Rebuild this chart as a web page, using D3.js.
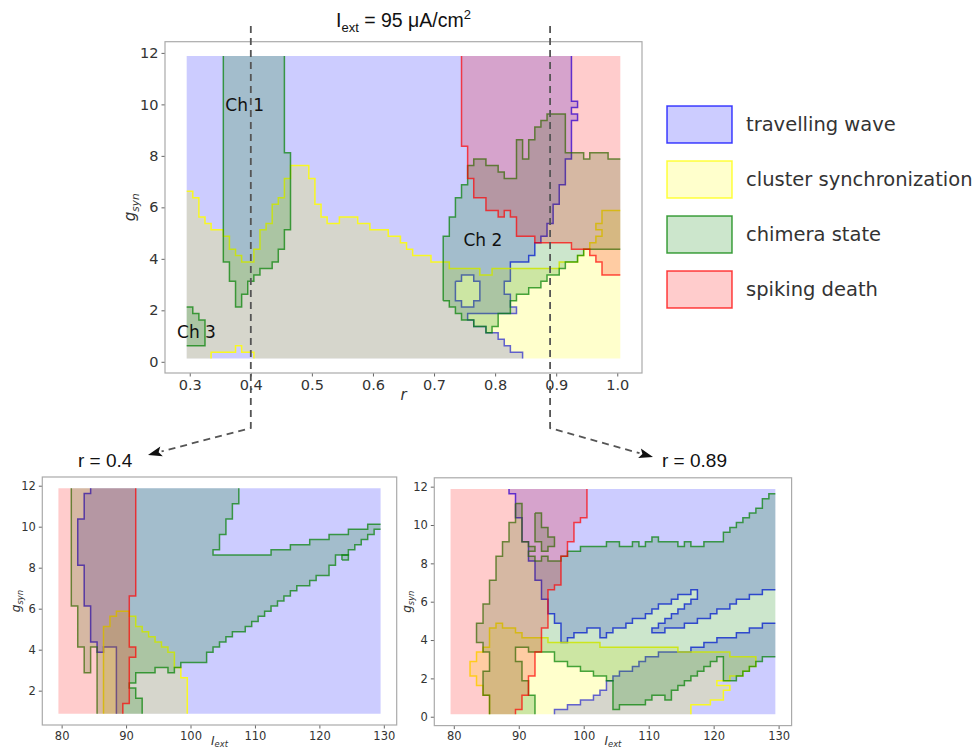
<!DOCTYPE html>
<html><head><meta charset="utf-8">
<script src="https://cdn.jsdelivr.net/npm/d3@7"></script>
<style>body{margin:0;background:#fff}svg{display:block}</style>
</head><body>
<svg id="c" width="976" height="751"></svg>
<script>
// ---------------- DATA ----------------
const mainXTicks=[0.3,0.4,0.5,0.6,0.7,0.8,0.9,1.0];
const mainYTicks=[0,2,4,6,8,10,12];
const subXTicks=[80,90,100,110,120,130];
const leftYTicks=[2,4,6,8,10,12];
const rightYTicks=[0,2,4,6,8,10,12];
const cutR=[0.4,0.89];
const cutLabels=["r = 0.4","r = 0.89"];
const legendLabels=["travelling wave","cluster synchronization","chimera state","spiking death"];
const stateColors=["#0000ff","#ffff00","#008000","#ff0000"];
const chLabels=[["Ch 1",0.39,9.96],["Ch 2",0.78,4.74],["Ch 3",0.311,1.14]];
// extent of the computed parameter grids
const mainExtent={x0:0.295,x1:1.005,y0:0.125,y1:11.875};
const leftExtent={x0:79.5,x1:129.5,y0:0.875,y1:11.875};
const rightExtent={x0:79.5,x1:129.5,y0:0.125,y1:11.875};

// main panel (r, g_syn) region outlines
const mainTravel=[[0.295,11.875],[0.925,11.875],[0.925,10.125],[0.935,10.125],[0.935,9.875],[0.925,9.875],[0.925,9.625],[0.935,9.625],[0.935,9.375],[0.925,9.375],[0.925,7.875],[0.915,7.875],[0.915,6.875],[0.905,6.875],[0.905,6.125],[0.895,6.125],[0.895,5.375],[0.885,5.375],[0.885,4.875],[0.875,4.875],[0.875,4.625],[0.865,4.625],[0.865,4.125],[0.855,4.125],[0.855,3.875],[0.825,3.875],[0.825,3.125],[0.815,3.125],[0.815,2.625],[0.825,2.625],[0.825,2.125],[0.835,2.125],[0.835,1.875],[0.755,1.875],[0.755,1.625],[0.765,1.625],[0.765,1.375],[0.785,1.375],[0.785,1.125],[0.805,1.125],[0.805,0.875],[0.815,0.875],[0.815,0.625],[0.825,0.625],[0.825,0.375],[0.845,0.375],[0.845,0.125],[0.295,0.125]];
const mainTravelHole=[[0.735,3.125],[0.745,3.125],[0.745,3.375],[0.765,3.375],[0.765,3.125],[0.775,3.125],[0.775,2.375],[0.765,2.375],[0.765,2.125],[0.745,2.125],[0.745,2.375],[0.735,2.375]];
const mainCluster=[[0.295,6.625],[0.305,6.625],[0.305,6.375],[0.315,6.375],[0.315,5.625],[0.325,5.625],[0.325,5.375],[0.335,5.375],[0.335,5.125],[0.355,5.125],[0.355,4.875],[0.365,4.875],[0.365,4.375],[0.375,4.375],[0.375,4.125],[0.385,4.125],[0.385,3.875],[0.405,3.875],[0.405,4.375],[0.415,4.375],[0.415,5.125],[0.425,5.125],[0.425,5.375],[0.435,5.375],[0.435,6.125],[0.445,6.125],[0.445,6.375],[0.455,6.375],[0.455,7.125],[0.465,7.125],[0.465,7.625],[0.495,7.625],[0.495,7.125],[0.505,7.125],[0.505,6.125],[0.515,6.125],[0.515,5.625],[0.525,5.625],[0.525,5.375],[0.545,5.375],[0.545,5.625],[0.575,5.625],[0.575,5.375],[0.595,5.375],[0.595,5.125],[0.625,5.125],[0.625,4.875],[0.645,4.875],[0.645,4.625],[0.655,4.625],[0.655,4.375],[0.665,4.375],[0.665,4.125],[0.695,4.125],[0.695,3.875],[0.725,3.875],[0.725,3.625],[0.775,3.625],[0.775,3.375],[0.795,3.375],[0.795,3.625],[0.905,3.625],[0.905,3.875],[0.935,3.875],[0.935,4.125],[0.945,4.125],[0.945,4.375],[0.955,4.375],[0.955,4.625],[0.965,4.625],[0.965,4.875],[0.975,4.875],[0.975,5.125],[0.965,5.125],[0.965,5.375],[0.975,5.375],[0.975,5.875],[1.005,5.875],[1.005,0.125],[0.405,0.125],[0.405,0.375],[0.385,0.375],[0.385,0.625],[0.375,0.625],[0.375,0.375],[0.335,0.375],[0.335,0.125],[0.295,0.125]];
const mainChimera1=[[0.355,11.875],[0.355,3.875],[0.365,3.875],[0.365,3.125],[0.375,3.125],[0.375,2.125],[0.385,2.125],[0.385,2.625],[0.395,2.625],[0.395,3.125],[0.405,3.125],[0.405,3.375],[0.415,3.375],[0.415,3.625],[0.435,3.625],[0.435,3.875],[0.445,3.875],[0.445,4.375],[0.455,4.375],[0.455,5.125],[0.465,5.125],[0.465,8.125],[0.455,8.125],[0.455,11.875]];
const mainChimera2=[[0.715,2.375],[0.715,4.875],[0.725,4.875],[0.725,5.625],[0.735,5.625],[0.735,6.375],[0.745,6.375],[0.745,6.875],[0.755,6.875],[0.755,7.625],[0.765,7.625],[0.765,7.875],[0.785,7.875],[0.785,7.625],[0.805,7.625],[0.805,7.375],[0.815,7.375],[0.815,7.125],[0.835,7.125],[0.835,8.625],[0.845,8.625],[0.845,7.875],[0.855,7.875],[0.855,8.625],[0.865,8.625],[0.865,9.125],[0.875,9.125],[0.875,9.375],[0.885,9.375],[0.885,9.625],[0.915,9.625],[0.915,8.125],[0.945,8.125],[0.945,7.875],[0.955,7.875],[0.955,8.125],[0.985,8.125],[0.985,7.875],[1.005,7.875],[1.005,4.375],[0.945,4.375],[0.945,4.125],[0.935,4.125],[0.935,3.875],[0.915,3.875],[0.915,3.625],[0.905,3.625],[0.905,3.375],[0.885,3.375],[0.885,3.125],[0.875,3.125],[0.875,2.875],[0.855,2.875],[0.855,2.625],[0.835,2.625],[0.835,2.375],[0.825,2.375],[0.825,1.875],[0.805,1.875],[0.805,1.375],[0.795,1.375],[0.795,1.125],[0.785,1.125],[0.785,1.375],[0.765,1.375],[0.765,1.625],[0.745,1.625],[0.745,1.875],[0.735,1.875],[0.735,2.125],[0.725,2.125],[0.725,2.375]];
const mainChimera3=[[0.295,2.125],[0.305,2.125],[0.305,1.875],[0.315,1.875],[0.315,1.625],[0.325,1.625],[0.325,0.625],[0.295,0.625]];
const mainDeath=[[0.745,11.875],[1.005,11.875],[1.005,3.375],[0.975,3.375],[0.975,3.875],[0.965,3.875],[0.965,4.125],[0.955,4.125],[0.955,4.375],[0.925,4.375],[0.925,4.625],[0.865,4.625],[0.865,4.875],[0.835,4.875],[0.835,5.625],[0.825,5.625],[0.825,5.875],[0.815,5.875],[0.815,5.625],[0.805,5.625],[0.805,5.875],[0.785,5.875],[0.785,6.375],[0.765,6.375],[0.765,7.125],[0.755,7.125],[0.755,8.375],[0.745,8.375]];

// lower-left panel, r = 0.4 (I_ext, g_syn)
const leftTravel=[[84.5,11.875],[129.5,11.875],[129.5,0.875],[88.5,0.875],[88.5,4.125],[86.5,4.125],[86.5,3.875],[85.5,3.875],[85.5,4.375],[84.5,4.375],[84.5,6.125],[83.5,6.125],[83.5,8.125],[82.5,8.125],[82.5,10.375],[83.5,10.375],[83.5,11.625],[84.5,11.625]];
const leftCluster=[[86.5,0.875],[86.5,5.125],[87.5,5.125],[87.5,5.625],[88.5,5.625],[88.5,5.875],[90.5,5.875],[90.5,5.625],[91.5,5.625],[91.5,5.125],[92.5,5.125],[92.5,4.875],[93.5,4.875],[93.5,4.625],[94.5,4.625],[94.5,4.375],[95.5,4.375],[95.5,4.125],[96.5,4.125],[96.5,3.875],[97.5,3.875],[97.5,3.125],[98.5,3.125],[98.5,2.625],[99.5,2.625],[99.5,0.875]];
const leftChimera=[[81.5,11.875],[107.5,11.875],[107.5,11.125],[106.5,11.125],[106.5,10.375],[105.5,10.375],[105.5,9.625],[104.5,9.625],[104.5,8.875],[103.5,8.875],[103.5,8.625],[112.5,8.625],[112.5,8.875],[115.5,8.875],[115.5,9.125],[118.5,9.125],[118.5,9.375],[121.5,9.375],[121.5,9.625],[124.5,9.625],[124.5,9.875],[127.5,9.875],[127.5,10.125],[129.5,10.125],[129.5,9.875],[128.5,9.875],[128.5,9.625],[127.5,9.625],[127.5,9.375],[126.5,9.375],[126.5,9.125],[125.5,9.125],[125.5,8.875],[124.5,8.875],[124.5,8.625],[122.5,8.625],[122.5,8.125],[121.5,8.125],[121.5,7.625],[119.5,7.625],[119.5,7.375],[118.5,7.375],[118.5,7.125],[116.5,7.125],[116.5,6.875],[115.5,6.875],[115.5,6.625],[114.5,6.625],[114.5,6.375],[113.5,6.375],[113.5,6.125],[112.5,6.125],[112.5,5.875],[111.5,5.875],[111.5,5.625],[110.5,5.625],[110.5,5.375],[109.5,5.375],[109.5,5.125],[108.5,5.125],[108.5,4.875],[106.5,4.875],[106.5,4.625],[105.5,4.625],[105.5,4.375],[104.5,4.375],[104.5,4.125],[103.5,4.125],[103.5,3.875],[102.5,3.875],[102.5,3.375],[98.5,3.375],[98.5,3.125],[97.5,3.125],[97.5,2.875],[96.5,2.875],[96.5,3.125],[94.5,3.125],[94.5,2.875],[91.5,2.875],[91.5,2.375],[90.5,2.375],[90.5,2.125],[91.5,2.125],[91.5,1.625],[92.5,1.625],[92.5,0.875],[85.5,0.875],[85.5,4.125],[84.5,4.125],[84.5,2.875],[83.5,2.875],[83.5,4.125],[82.5,4.125],[82.5,6.125],[81.5,6.125]];
const leftChimeraSquare=[[123.5,8.375],[124.5,8.375],[124.5,8.625],[123.5,8.625]];
const leftDeath=[[79.5,11.875],[91.5,11.875],[91.5,6.625],[90.5,6.625],[90.5,4.125],[91.5,4.125],[91.5,3.625],[90.5,3.625],[90.5,1.375],[89.5,1.375],[89.5,0.875],[79.5,0.875]];

// lower-right panel, r = 0.89 (I_ext, g_syn)
const rightTravelTop=[[88.5,11.875],[88.5,11.625],[89.5,11.625],[89.5,10.375],[90.5,10.375],[90.5,9.125],[91.5,9.125],[91.5,8.125],[92.5,8.125],[92.5,7.125],[93.5,7.125],[93.5,6.125],[94.5,6.125],[94.5,5.375],[95.5,5.375],[95.5,4.875],[96.5,4.875],[96.5,3.875],[97.5,3.875],[97.5,4.125],[98.5,4.125],[98.5,4.375],[100.5,4.375],[100.5,4.625],[102.5,4.625],[102.5,4.125],[103.5,4.125],[103.5,4.375],[104.5,4.375],[104.5,4.625],[106.5,4.625],[106.5,4.875],[107.5,4.875],[107.5,5.125],[109.5,5.125],[109.5,5.375],[110.5,5.375],[110.5,5.625],[111.5,5.625],[111.5,5.875],[113.5,5.875],[113.5,6.125],[114.5,6.125],[114.5,6.375],[116.5,6.375],[116.5,6.625],[117.5,6.625],[117.5,6.125],[116.5,6.125],[116.5,5.875],[115.5,5.875],[115.5,5.625],[114.5,5.625],[114.5,5.375],[113.5,5.375],[113.5,5.125],[112.5,5.125],[112.5,4.875],[111.5,4.875],[111.5,4.625],[110.5,4.625],[110.5,4.375],[112.5,4.375],[112.5,4.625],[115.5,4.625],[115.5,4.875],[117.5,4.875],[117.5,5.125],[119.5,5.125],[119.5,5.375],[120.5,5.375],[120.5,5.625],[122.5,5.625],[122.5,5.875],[123.5,5.875],[123.5,6.125],[125.5,6.125],[125.5,6.375],[127.5,6.375],[127.5,6.625],[129.5,6.625],[129.5,11.875]];
const rightTravelBottom=[[95.5,0.125],[95.5,0.375],[97.5,0.375],[97.5,0.625],[99.5,0.625],[99.5,0.875],[101.5,0.875],[101.5,1.125],[102.5,1.125],[102.5,1.375],[103.5,1.375],[103.5,1.875],[104.5,1.875],[104.5,2.125],[105.5,2.125],[105.5,2.375],[107.5,2.375],[107.5,2.625],[108.5,2.625],[108.5,2.875],[109.5,2.875],[109.5,3.125],[111.5,3.125],[111.5,3.375],[116.5,3.375],[116.5,3.625],[118.5,3.625],[118.5,3.875],[120.5,3.875],[120.5,4.125],[123.5,4.125],[123.5,4.375],[125.5,4.375],[125.5,4.625],[127.5,4.625],[127.5,4.875],[129.5,4.875],[129.5,0.125]];
const rightCluster=[[85.5,0.125],[85.5,1.125],[84.5,1.125],[84.5,1.625],[83.5,1.625],[83.5,2.125],[82.5,2.125],[82.5,2.875],[83.5,2.875],[83.5,3.375],[84.5,3.375],[84.5,3.625],[85.5,3.625],[85.5,4.625],[86.5,4.625],[86.5,4.875],[87.5,4.875],[87.5,4.625],[89.5,4.625],[89.5,4.375],[90.5,4.375],[90.5,4.125],[94.5,4.125],[94.5,3.875],[102.5,3.875],[102.5,3.625],[114.5,3.625],[114.5,3.375],[122.5,3.375],[122.5,3.125],[126.5,3.125],[126.5,2.625],[125.5,2.625],[125.5,2.375],[124.5,2.375],[124.5,2.125],[122.5,2.125],[122.5,1.875],[120.5,1.875],[120.5,1.625],[122.5,1.625],[122.5,1.375],[121.5,1.375],[121.5,0.875],[119.5,0.875],[119.5,0.625],[116.5,0.625],[116.5,0.125]];
const rightChimera=[[89.5,11.125],[90.5,11.125],[90.5,9.125],[91.5,9.125],[91.5,8.875],[92.5,8.875],[92.5,8.625],[91.5,8.625],[91.5,8.375],[92.5,8.375],[92.5,8.125],[93.5,8.125],[93.5,8.375],[94.5,8.375],[94.5,8.125],[96.5,8.125],[96.5,8.375],[97.5,8.375],[97.5,8.625],[99.5,8.625],[99.5,8.875],[103.5,8.875],[103.5,9.125],[105.5,9.125],[105.5,8.875],[107.5,8.875],[107.5,9.125],[108.5,9.125],[108.5,8.875],[109.5,8.875],[109.5,9.125],[110.5,9.125],[110.5,9.375],[111.5,9.375],[111.5,9.125],[114.5,9.125],[114.5,8.875],[115.5,8.875],[115.5,9.125],[116.5,9.125],[116.5,8.875],[118.5,8.875],[118.5,9.125],[121.5,9.125],[121.5,9.625],[122.5,9.625],[122.5,9.875],[123.5,9.875],[123.5,10.125],[124.5,10.125],[124.5,10.375],[125.5,10.375],[125.5,10.625],[126.5,10.625],[126.5,10.875],[127.5,10.875],[127.5,11.375],[128.5,11.375],[128.5,11.625],[129.5,11.625],[129.5,3.125],[127.5,3.125],[127.5,2.875],[126.5,2.875],[126.5,2.625],[125.5,2.625],[125.5,2.375],[124.5,2.375],[124.5,2.125],[123.5,2.125],[123.5,1.875],[121.5,1.875],[121.5,3.125],[120.5,3.125],[120.5,2.875],[119.5,2.875],[119.5,2.625],[118.5,2.625],[118.5,2.375],[117.5,2.375],[117.5,2.125],[116.5,2.125],[116.5,1.875],[115.5,1.875],[115.5,1.625],[114.5,1.625],[114.5,1.375],[113.5,1.375],[113.5,0.875],[112.5,0.875],[112.5,1.125],[110.5,1.125],[110.5,0.875],[109.5,0.875],[109.5,0.625],[105.5,0.625],[105.5,0.375],[104.5,0.375],[104.5,1.875],[103.5,1.875],[103.5,2.125],[101.5,2.125],[101.5,2.375],[99.5,2.375],[99.5,2.625],[97.5,2.625],[97.5,2.875],[95.5,2.875],[95.5,3.375],[91.5,3.375],[91.5,3.625],[89.5,3.625],[89.5,2.875],[90.5,2.875],[90.5,1.875],[91.5,1.875],[91.5,1.125],[92.5,1.125],[92.5,0.125],[85.5,0.125],[85.5,1.125],[84.5,1.125],[84.5,2.375],[85.5,2.375],[85.5,3.375],[84.5,3.375],[84.5,3.875],[83.5,3.875],[83.5,4.875],[84.5,4.875],[84.5,5.875],[85.5,5.875],[85.5,7.125],[86.5,7.125],[86.5,8.375],[87.5,8.375],[87.5,9.125],[88.5,9.125],[88.5,10.125],[89.5,10.125]];
const rightChimeraBlob=[[92.5,10.625],[93.5,10.625],[93.5,9.875],[94.5,9.875],[94.5,9.375],[95.5,9.375],[95.5,8.875],[94.5,8.875],[94.5,8.625],[93.5,8.625],[93.5,9.125],[92.5,9.125]];
const rightDeath=[[79.5,11.875],[100.5,11.875],[100.5,10.375],[99.5,10.375],[99.5,10.125],[98.5,10.125],[98.5,9.125],[97.5,9.125],[97.5,8.375],[96.5,8.375],[96.5,6.875],[95.5,6.875],[95.5,6.625],[94.5,6.625],[94.5,4.625],[93.5,4.625],[93.5,3.375],[92.5,3.375],[92.5,2.125],[91.5,2.125],[91.5,1.125],[90.5,1.125],[90.5,0.375],[89.5,0.375],[89.5,0.125],[79.5,0.125]];

// ---------------- DRAWING ----------------
const svg=d3.select("#c");
svg.append("rect").attr("width",976).attr("height",751).attr("fill","#fff");
const FONT="DejaVu Sans, sans-serif";
const strokeOp=[0.75,0.85,0.7,0.7];

// outline path that skips segments lying on the outer edge of the computed grid
function outline(ring,x,y,ext){
  let d="",pen=false;
  for(let i=0;i<ring.length;i++){
    const a=ring[i],b=ring[(i+1)%ring.length];
    const onEdge=(a[0]===b[0]&&(a[0]===ext.x0||a[0]===ext.x1))||(a[1]===b[1]&&(a[1]===ext.y0||a[1]===ext.y1));
    if(onEdge){pen=false;continue;}
    if(!pen){d+=`M${x(a[0])},${y(a[1])}`;pen=true;}
    d+=`L${x(b[0])},${y(b[1])}`;
  }
  return d;
}

function drawPanel(cfg){
  const x=d3.scaleLinear().domain(cfg.xd).range([cfg.left,cfg.right]);
  const y=d3.scaleLinear().domain(cfg.yd).range([cfg.bottom,cfg.top]);
  const g=svg.append("g");
  const line=d3.line().x(d=>x(d[0])).y(d=>y(d[1]));
  cfg.regions.forEach(([rings,ci])=>{
    const d=rings.map(r=>line(r)+"Z").join("");
    g.append("path").attr("d",d)
      .attr("fill",stateColors[ci]).attr("fill-opacity",0.2).attr("fill-rule","evenodd").attr("stroke","none");
    g.append("path").attr("d",rings.map(r=>outline(r,x,y,cfg.ext)).join(""))
      .attr("fill","none").attr("stroke",stateColors[ci]).attr("stroke-opacity",strokeOp[ci]).attr("stroke-width",1.5);
  });
  const gx=g.append("g").attr("transform",`translate(0,${cfg.bottom})`)
    .call(d3.axisBottom(x).tickValues(cfg.xt).tickSize(3.5).tickPadding(3).tickFormat(cfg.xf));
  const gy=g.append("g").attr("transform",`translate(${cfg.left},0)`)
    .call(d3.axisLeft(y).tickValues(cfg.yt).tickSize(3.5).tickPadding(3).tickFormat(d3.format("d")));
  [gx,gy].forEach(a=>{
    a.select(".domain").remove();
    a.selectAll("line").attr("stroke","#666");
    a.selectAll("text").attr("fill","#333").style("font-family",FONT).style("font-size",cfg.fs+"px");
  });
  g.append("rect").attr("x",cfg.left).attr("y",cfg.top).attr("width",cfg.right-cfg.left).attr("height",cfg.bottom-cfg.top)
    .attr("fill","none").attr("stroke","#aaa").attr("stroke-width",1.2);
  const yl=g.append("text").attr("transform",`translate(${cfg.ylx},${(cfg.top+cfg.bottom)/2}) rotate(-90)`)
    .attr("text-anchor","middle").style("font-family",FONT).style("font-size",cfg.lfs+"px").style("font-style","italic").attr("fill","#333");
  yl.append("tspan").text("g");
  yl.append("tspan").attr("dy",cfg.lfs*0.25).style("font-size",(cfg.lfs*0.7)+"px").text("syn");
  const xl=g.append("text").attr("x",(cfg.left+cfg.right)/2).attr("y",cfg.xly).attr("text-anchor","middle")
    .style("font-family",FONT).style("font-size",cfg.lfs+"px").style("font-style","italic").attr("fill","#333");
  if(cfg.xlab==="r"){ xl.text("r"); }
  else { xl.append("tspan").text("I"); xl.append("tspan").attr("dy",cfg.lfs*0.2).style("font-size",(cfg.lfs*0.7)+"px").text("ext"); }
  return {x,y,g};
}

const mainP=drawPanel({left:165,right:642,top:41.7,bottom:373,xd:[0.2595,1.0405],yd:[-0.435,12.435],ext:mainExtent,
  xt:mainXTicks,yt:mainYTicks,xf:d3.format(".1f"),fs:14.5,lfs:15,ylx:135,xly:400,xlab:"r",
  regions:[[[mainTravel,mainTravelHole],0],[[mainCluster],1],[[mainChimera1],2],[[mainChimera2],2],[[mainChimera3],2],[[mainDeath],3]]});
chLabels.forEach(([t,r,gv])=>{
  mainP.g.append("text").attr("x",mainP.x(r)).attr("y",mainP.y(gv)).attr("text-anchor","middle").attr("dominant-baseline","central")
    .style("font-family",FONT).style("font-size","17px").attr("fill","#111").text(t);
});

drawPanel({left:42.3,right:396.7,top:477,bottom:725,xd:[77,132],yd:[0.325,12.425],ext:leftExtent,
  xt:subXTicks,yt:leftYTicks,xf:d3.format("d"),fs:11.5,lfs:12,ylx:20,xly:745,xlab:"I",
  regions:[[[leftTravel],0],[[leftCluster],1],[[leftChimera],2],[[leftChimeraSquare],2],[[leftDeath],3]]});

drawPanel({left:434.3,right:791.6,top:477.8,bottom:725.6,xd:[77,132],yd:[-0.4625,12.4625],ext:rightExtent,
  xt:subXTicks,yt:rightYTicks,xf:d3.format("d"),fs:11.5,lfs:12,ylx:411,xly:745,xlab:"I",
  regions:[[[rightTravelTop],0],[[rightTravelBottom],0],[[rightCluster],1],[[rightChimera],2],[[rightChimeraBlob],2],[[rightDeath],3]]});

// title
const title=svg.append("text").attr("x",403.5).attr("y",27).attr("text-anchor","middle")
  .style("font-family","Liberation Sans, Arial, sans-serif").style("font-size","19.5px").attr("fill","#111");
title.append("tspan").text("I");
title.append("tspan").attr("dy",5).style("font-size","13px").text("ext");
title.append("tspan").attr("dy",-5).text(" = 95 \u03bcA/cm");
title.append("tspan").attr("dy",-8).style("font-size","13px").text("2");

// legend
legendLabels.forEach((t,i)=>{
  const yy=106+55*i;
  svg.append("rect").attr("x",667).attr("y",yy).attr("width",65).attr("height",37)
    .attr("fill",stateColors[i]).attr("fill-opacity",0.2).attr("stroke",stateColors[i]).attr("stroke-opacity",0.75).attr("stroke-width",1.5);
  svg.append("text").attr("x",746).attr("y",yy+18.5).attr("dominant-baseline","central")
    .style("font-family",FONT).style("font-size","19.5px").attr("fill","#333").text(t);
});

// dashed cut lines with arrows
const cutEnds=[[148,455],[653,457]];
cutR.forEach((r,i)=>{
  const xv=mainP.x(r), yTop=26, yBend=428;
  const [tx,ty]=cutEnds[i];
  const dx=tx-xv, dy=ty-yBend, L=Math.hypot(dx,dy), ux=dx/L, uy=dy/L;
  const hl=14, hw=5;
  const bx=tx-ux*hl, by=ty-uy*hl;
  svg.append("path").attr("d",`M${xv},${yTop}L${xv},${yBend}L${bx},${by}`)
    .attr("fill","none").attr("stroke","#555").attr("stroke-width",1.8).attr("stroke-dasharray","7,5");
  svg.append("path").attr("d",`M${tx},${ty}L${bx-uy*hw},${by+ux*hw}L${bx+ux*3},${by+uy*3}L${bx+uy*hw},${by-ux*hw}Z`)
    .attr("fill","#111");
  svg.append("text").attr("x",i===0?78:662).attr("y",467)
    .style("font-family","Liberation Sans, Arial, sans-serif").style("font-size","19px").attr("fill","#111").text(cutLabels[i]);
});
</script>
</body></html>
